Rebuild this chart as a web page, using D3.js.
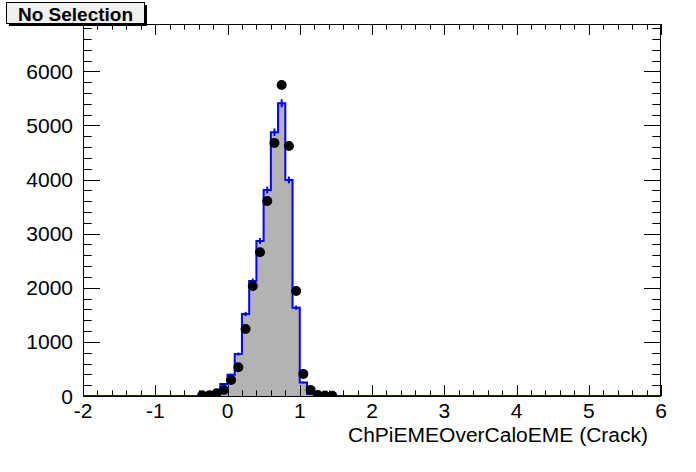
<!DOCTYPE html>
<html><head><meta charset="utf-8">
<script src="https://cdn.jsdelivr.net/npm/d3@7"></script>
<style>html,body{margin:0;padding:0;background:#fff;}svg{display:block;}</style>
</head><body>
<script>
// ---- data ----
const title = "No Selection";
const xTitle = "ChPiEMEOverCaloEME (Crack)";
const xDomain = [-2, 6];
const yDomain = [0, 6875];
const xMajorTicks = [-2, -1, 0, 1, 2, 3, 4, 5, 6];
const yMajorTicks = [0, 1000, 2000, 3000, 4000, 5000, 6000];
const binWidth = 0.1;
const histBinLow = [-0.3, -0.2, -0.1, 0.0, 0.1, 0.2, 0.3, 0.4, 0.5, 0.6, 0.7, 0.8, 0.9, 1.0, 1.1, 1.2];
const histCounts = [8, 50, 222, 392, 776, 1516, 2126, 2865, 3808, 4874, 5410, 3993, 1632, 250, 35, 5];
const pointX = [-0.35, -0.25, -0.15, -0.05, 0.05, 0.15, 0.25, 0.35, 0.45, 0.55, 0.65, 0.75, 0.85, 0.95, 1.05, 1.15, 1.25, 1.35, 1.45];
const pointY = [12, 12, 50, 110, 296, 530, 1238, 2033, 2656, 3604, 4677, 5749, 4621, 1941, 407, 110, 20, 10, 5];

// ---- layout ----
const W = 696, H = 472;
const L = 83, R = 661, T = 24, B = 396;
const font = "Arial, 'Liberation Sans', Helvetica, sans-serif";

const svg = d3.select("body").append("svg").attr("width", W).attr("height", H)
  .style("font-family", font);
svg.append("rect").attr("width", W).attr("height", H).attr("fill", "#fff");

const x = d3.scaleLinear().domain(xDomain).range([L, R]);
const y = d3.scaleLinear().domain(yDomain).range([B, T]);

svg.append("clipPath").attr("id", "clip").append("rect")
  .attr("x", L).attr("y", T).attr("width", R - L).attr("height", B - T);
const plot = svg.append("g").attr("clip-path", "url(#clip)");

// histogram step path
let pts = [[xDomain[0], 0]];
histBinLow.forEach((lo, i) => {
  pts.push([lo, 0 === i ? 0 : histCounts[i - 1]]);
  pts.push([lo, histCounts[i]]);
  pts.push([lo + binWidth, histCounts[i]]);
});
const lastHi = histBinLow[histBinLow.length - 1] + binWidth;
pts.push([lastHi, 0]);
pts.push([xDomain[1], 0]);
const line = d3.line().x(d => x(d[0])).y(d => y(d[1]));
plot.append("path").attr("d", line(pts) + "Z").attr("fill", "#b3b3b3").attr("stroke", "none");
plot.append("path").attr("d", line(pts)).attr("fill", "none").attr("stroke", "#0000ff").attr("stroke-width", 2);
// error bars on histogram
plot.selectAll("line.herr").data(histBinLow).enter().append("line")
  .attr("x1", (d) => x(d + binWidth / 2)).attr("x2", (d) => x(d + binWidth / 2))
  .attr("y1", (d, i) => y(histCounts[i] + Math.sqrt(histCounts[i])))
  .attr("y2", (d, i) => y(histCounts[i] - Math.sqrt(histCounts[i])))
  .attr("stroke", "#0000ff").attr("stroke-width", 2);

// points
plot.selectAll("circle.pt").data(pointX).enter().append("circle")
  .attr("cx", d => x(d)).attr("cy", (d, i) => y(pointY[i])).attr("r", 5).attr("fill", "#000");

// ---- axes ----
const xMinor = d3.range(xDomain[0], xDomain[1] + 1e-9, 0.2).map(v => +v.toFixed(2));
const yMinor = d3.range(0, yDomain[1], 200);
const g = svg.append("g").attr("stroke", "#000").attr("stroke-width", 1);
function tick(x1, y1, x2, y2) {
  g.append("line").attr("x1", x1).attr("y1", y1).attr("x2", x2).attr("y2", y2);
}
xMinor.forEach(v => {
  const major = xMajorTicks.some(m => Math.abs(m - v) < 1e-6);
  const len = major ? 11 : 5.6;
  const px = Math.round(x(v)) + 0.5;
  tick(px, B, px, B - len);
  tick(px, T, px, T + len);
});
yMinor.forEach(v => {
  const major = yMajorTicks.includes(v);
  const len = major ? 17 : 8.7;
  const py = Math.round(y(v)) + 0.5;
  tick(L, py, L + len, py);
  tick(R, py, R - len, py);
});
// frame
svg.append("rect").attr("x", L + 0.5).attr("y", T + 0.5).attr("width", R - L - 1).attr("height", B - T)
  .attr("fill", "none").attr("stroke", "#000").attr("stroke-width", 1);

// tick labels
svg.selectAll("text.xl").data(xMajorTicks).enter().append("text")
  .attr("x", d => x(d)).attr("y", 418).attr("text-anchor", "middle")
  .attr("font-size", 21).text(d => d);
svg.selectAll("text.yl").data(yMajorTicks).enter().append("text")
  .attr("x", 73).attr("y", d => y(d) + 7.5).attr("text-anchor", "end")
  .attr("font-size", 21).text(d => d);

// axis title
svg.append("text").attr("x", 648).attr("y", 442).attr("text-anchor", "end")
  .attr("font-size", 20).attr("textLength", 300).attr("lengthAdjust", "spacingAndGlyphs").text(xTitle);

// title box
svg.append("rect").attr("x", 9).attr("y", 5).attr("width", 138).attr("height", 21).attr("fill", "#000");
svg.append("rect").attr("x", 6.5).attr("y", 2.5).attr("width", 138).attr("height", 21)
  .attr("fill", "#f0f0f0").attr("stroke", "#000").attr("stroke-width", 1);
svg.append("text").attr("x", 75.5).attr("y", 20.5).attr("text-anchor", "middle")
  .attr("font-size", 19).attr("font-weight", "bold").text(title);
</script>
</body></html>
